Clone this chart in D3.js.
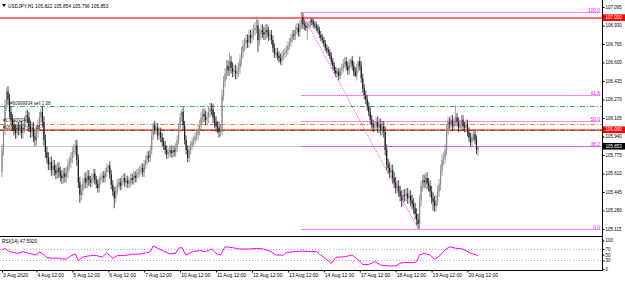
<!DOCTYPE html>
<html>
<head>
<meta charset="utf-8">
<script src="https://d3js.org/d3.v7.min.js"></script>
<style>
html, body { margin: 0; padding: 0; background: #fff; }
svg { display: block; font-family: "Liberation Sans", Arial, sans-serif; }
</style>
</head>
<body>
<svg id="chart" width="625" height="281"></svg>
<script>
// hourly closes, one array per trading day (3 Aug starts at 13:00, 20 Aug stops at 19:00)
var aug03 = [105.82, 106.00, 106.22, 106.34, 106.27, 106.16, 106.09, 106.04, 106.00, 105.97, 106.02];
var aug04 = [106.00, 106.03, 105.97, 106.02, 106.07, 106.13, 106.11, 106.03, 105.98, 106.02, 105.94, 105.91, 105.98, 106.04, 106.11, 106.16, 106.07, 105.91, 105.80, 105.75, 105.69, 105.71, 105.64, 105.68];
var aug05 = [105.64, 105.61, 105.66, 105.62, 105.59, 105.57, 105.61, 105.58, 105.62, 105.69, 105.71, 105.75, 105.80, 105.82, 105.86, 105.73, 105.53, 105.42, 105.46, 105.52, 105.57, 105.53, 105.59, 105.55];
var aug06 = [105.53, 105.57, 105.61, 105.55, 105.52, 105.48, 105.55, 105.57, 105.59, 105.57, 105.62, 105.66, 105.68, 105.60, 105.51, 105.45, 105.39, 105.46, 105.52, 105.53, 105.50, 105.55, 105.57, 105.53];
var aug07 = [105.55, 105.52, 105.53, 105.57, 105.55, 105.59, 105.57, 105.61, 105.62, 105.64, 105.66, 105.62, 105.69, 105.73, 105.77, 105.75, 105.82, 105.95, 106.04, 106.00, 106.02, 105.95, 105.98, 105.93];
var aug10 = [105.89, 105.86, 105.82, 105.78, 105.80, 105.82, 105.79, 105.82, 105.80, 105.84, 105.91, 106.02, 106.11, 106.16, 106.04, 105.91, 105.82, 105.75, 105.82, 105.86, 105.89, 105.91, 105.94, 105.96];
var aug11 = [106.00, 106.04, 106.11, 106.14, 106.12, 106.09, 106.11, 106.16, 106.19, 106.18, 106.11, 106.07, 106.03, 106.02, 105.98, 106.00, 106.31, 106.43, 106.50, 106.57, 106.53, 106.61, 106.55, 106.52];
var aug12 = [106.53, 106.50, 106.52, 106.55, 106.62, 106.69, 106.75, 106.77, 106.80, 106.78, 106.84, 106.82, 106.85, 106.89, 106.91, 106.93, 106.80, 106.85, 106.89, 106.87, 106.85, 106.89, 106.87, 106.84];
var aug13 = [106.85, 106.80, 106.73, 106.68, 106.69, 106.66, 106.64, 106.61, 106.66, 106.68, 106.69, 106.71, 106.75, 106.78, 106.82, 106.85, 106.84, 106.89, 106.91, 106.87, 106.94, 107.00, 106.94, 106.93];
var aug14 = [106.91, 106.93, 106.94, 106.98, 106.96, 106.94, 106.93, 106.91, 106.89, 106.85, 106.82, 106.80, 106.77, 106.73, 106.71, 106.69, 106.66, 106.61, 106.57, 106.53, 106.50, 106.52, 106.48, 106.53];
var aug17 = [106.55, 106.59, 106.61, 106.57, 106.53, 106.59, 106.62, 106.57, 106.52, 106.48, 106.55, 106.61, 106.57, 106.46, 106.37, 106.31, 106.27, 106.21, 106.16, 106.09, 106.05, 106.02, 106.03, 106.07];
var aug18 = [106.02, 106.05, 106.00, 106.03, 105.98, 105.82, 105.69, 105.66, 105.62, 105.64, 105.57, 105.53, 105.48, 105.50, 105.45, 105.41, 105.37, 105.42, 105.41, 105.43, 105.39, 105.41, 105.37, 105.34];
var aug19 = [105.30, 105.25, 105.20, 105.16, 105.37, 105.50, 105.55, 105.53, 105.57, 105.52, 105.50, 105.45, 105.39, 105.36, 105.32, 105.37, 105.45, 105.51, 105.64, 105.73, 105.75, 105.82, 106.00, 106.07];
var aug20 = [106.05, 106.09, 106.03, 106.07, 106.11, 106.07, 106.02, 106.05, 106.09, 106.03, 106.02, 106.05, 105.98, 105.93, 105.89, 105.94, 105.96, 105.91, 105.822, 105.853];

var firstOpen = 105.62;
// usual shadow length per day
var dayWick = [0.05, 0.05, 0.05, 0.04, 0.04, 0.04, 0.05, 0.05, 0.04, 0.03, 0.04, 0.05, 0.05, 0.04];
// bars whose high / low stick out [bar, price]
var highMarks = [[3, 106.37], [26, 106.19], [71, 105.69], [101, 106.06], [120, 106.18], [140, 106.24], [152, 106.69], [170, 107.01], [200, 107.05], [207, 107.00], [233, 106.64], [238, 106.62], [303, 106.22], [318, 105.854]];
var lowMarks = [[0, 105.58], [22, 105.85], [52, 105.35], [75, 105.30], [146, 105.94], [171, 106.69], [186, 106.58], [204, 106.80], [225, 106.44], [236, 106.47], [267, 105.31], [278, 105.115], [288, 105.28], [318, 105.766]];

var priceTicks = [107.095, 106.930, 106.765, 106.600, 106.435, 106.270, 106.105, 105.940, 105.775, 105.610, 105.445, 105.280, 105.115];
var timeTickBars = [0, 23, 47, 71, 95, 119, 143, 167, 191, 215, 239, 263, 287, 311];
var timeTickLabels = ['3 Aug 2020', '4 Aug 12:00', '5 Aug 12:00', '6 Aug 12:00', '7 Aug 12:00', '10 Aug 12:00', '11 Aug 12:00', '12 Aug 12:00', '13 Aug 12:00', '14 Aug 12:00', '17 Aug 12:00', '18 Aug 12:00', '19 Aug 12:00', '20 Aug 12:00'];

var levelPrices = [107.000, 106.000];
var orderPrices = [106.215, 106.05, 106.00];
var orderLabels = ['#60999934 sell 1.08', '#17690934 sl', '#16690712 tp 1.08'];
var bid = 105.853;
var titleText = 'USDJPY,H1  105.822 105.854 105.766 105.853';

var fibLevels = [0, 38.2, 50, 61.8, 100];
var fibFrom = {bar: 200, price: 107.05};
var fibTo = {bar: 278, price: 105.115};

var rsiBars = [0,2,4,7,11,14,17,19,23,25,28,30,33,37,40,43,46,49,51,54,59,63,67,70,74,77,82,87,92,96,99,101,104,108,112,116,118,120,123,127,132,136,140,143,146,149,154,159,164,170,174,179,183,188,190,196,200,206,210,212,216,220,223,229,234,237,241,245,249,253,255,259,263,266,269,274,277,279,282,286,289,293,296,299,303,308,313,317,318];
var rsiVals = [67,72,64,58,55,61,56,54,49,61,50,41,38,38,35,35,46,53,29,42,47,47,42,57,37,47,47,52,52,57,60,81,73,63,53,55,73,76,49,60,65,61,70,55,49,78,75,70,70,72,71,63,49,49,58,61,63,61,61,53,37,20,41,43,49,37,16,16,26,14,12,11,11,20,23,22,25,49,55,49,34,49,67,78,73,70,55,49,47.59];
var rsiTicks = [100, 70, 50, 30, 0];
var rsiLevels = [70, 30];

// build candles, open = previous close
var dayArrays = [aug03, aug04, aug05, aug06, aug07, aug10, aug11, aug12, aug13, aug14, aug17, aug18, aug19, aug20];
var candles = [];
var prev = firstOpen;
dayArrays.forEach(function(arr, d){
    arr.forEach(function(c){
        candles.push({
            i: candles.length, o: prev, c: c,
            h: Math.max(prev, c) + dayWick[d],
            l: Math.min(prev, c) - dayWick[d]
        });
        prev = c;
    });
});
highMarks.forEach(function(m){ var k = candles[m[0]]; k.h = Math.max(m[1], k.o, k.c); });
lowMarks.forEach(function(m){ var k = candles[m[0]]; k.l = Math.min(m[1], k.o, k.c); });

var axisX = 602.5;
var svg = d3.select('#chart');
var x = d3.scaleLinear().domain([0, candles.length - 1]).range([2, 478]);
var y = d3.scaleLinear().domain([105.115, 107.095]).range([229, 7]);
var yr = d3.scaleLinear().domain([0, 100]).range([269, 240.5]);

// snap a y value onto the pixel grid
function crisp(v){ return Math.round(v) + 0.5; }

svg.append('clipPath').attr('id', 'mainClip')
    .append('rect').attr('x', 0).attr('y', 0).attr('width', axisX).attr('height', 236);
var main = svg.append('g').attr('clip-path', 'url(#mainClip)');

// bid line
main.append('line')
    .attr('x1', 0).attr('x2', axisX).attr('y1', crisp(y(bid))).attr('y2', crisp(y(bid)))
    .attr('stroke', '#c8c8c8').attr('stroke-width', 1);

// horizontal levels
levelPrices.forEach(function(p){
    main.append('line')
        .attr('x1', 0).attr('x2', axisX).attr('y1', Math.round(y(p))).attr('y2', Math.round(y(p)))
        .attr('stroke', '#ff6f6f').attr('stroke-width', 2);
});

// order lines
var orderColors = ['#2fb84a', '#ff7a30', '#5a5a20'];
orderPrices.forEach(function(p, k){
    main.append('line')
        .attr('x1', 0).attr('x2', axisX).attr('y1', crisp(y(p))).attr('y2', crisp(y(p)))
        .attr('stroke', orderColors[k]).attr('stroke-width', 1)
        .attr('stroke-dasharray', '5,2,1,2');
});

// candles
var bullCol = '#8a8a8a', bearCol = '#1e1e1e';
var cg = main.append('g');
cg.selectAll('line.wick').data(candles).enter().append('line')
    .attr('class', 'wick')
    .attr('x1', function(d){ return x(d.i); }).attr('x2', function(d){ return x(d.i); })
    .attr('y1', function(d){ return y(d.h); }).attr('y2', function(d){ return y(d.l); })
    .attr('stroke', function(d){ return d.c >= d.o ? bullCol : bearCol; })
    .attr('stroke-width', 0.8);
cg.selectAll('rect.body').data(candles).enter().append('rect')
    .attr('class', 'body')
    .attr('x', function(d){ return x(d.i) - 0.6; }).attr('width', 1.2)
    .attr('y', function(d){ return y(Math.max(d.o, d.c)); })
    .attr('height', function(d){ return Math.max(0.8, Math.abs(y(d.o) - y(d.c))); })
    .attr('fill', function(d){ return d.c >= d.o ? bullCol : bearCol; });

// fibo
var fibX1 = x(fibFrom.bar), fibX2 = 601;
fibLevels.forEach(function(lv){
    var p = fibTo.price + (fibFrom.price - fibTo.price) * lv / 100;
    var yy = crisp(y(p));
    main.append('line')
        .attr('x1', fibX1).attr('x2', fibX2).attr('y1', yy).attr('y2', yy)
        .attr('stroke', '#ff00ff').attr('stroke-width', 1).attr('stroke-dasharray', '1,1');
    main.append('text')
        .attr('x', 600).attr('y', yy - 0.8).attr('text-anchor', 'end')
        .attr('font-size', 4.8).attr('fill', '#ff00ff')
        .text(lv.toFixed(1));
});
main.append('line')
    .attr('x1', x(fibFrom.bar)).attr('y1', y(fibFrom.price))
    .attr('x2', x(fibTo.bar)).attr('y2', y(fibTo.price))
    .attr('stroke', '#ff00ff').attr('stroke-width', 0.8).attr('stroke-dasharray', '1,1');

// order labels
var labelX = [10, 3, 3];
orderPrices.forEach(function(p, k){
    main.append('text')
        .attr('x', labelX[k]).attr('y', y(p) - (k == 1 ? 2.5 : 1))
        .attr('font-size', 4.5).attr('fill', '#222')
        .text(orderLabels[k]);
});

// title
svg.append('path').attr('d', 'M2,4 L6,4 L4,7 Z').attr('fill', '#000');
svg.append('text').attr('x', 8).attr('y', 7.5).attr('font-size', 4.8).attr('fill', '#000').text(titleText);

// frame
svg.append('line').attr('x1', axisX).attr('x2', axisX).attr('y1', 0).attr('y2', 271).attr('stroke', '#000').attr('stroke-width', 1);
svg.append('line').attr('x1', 0).attr('x2', axisX).attr('y1', 236.5).attr('y2', 236.5).attr('stroke', '#000').attr('stroke-width', 1);
svg.append('line').attr('x1', 0).attr('x2', axisX).attr('y1', 270.5).attr('y2', 270.5).attr('stroke', '#000').attr('stroke-width', 1);

// price axis
var yAxis = d3.axisRight(y).tickValues(priceTicks).tickFormat(d3.format('.3f')).tickSize(2).tickPadding(1);
svg.append('g')
    .attr('transform', 'translate(' + axisX + ',0)')
    .call(yAxis)
    .call(function(g){
        g.select('.domain').remove();
        g.selectAll('text').attr('font-size', 4.5).attr('font-family', '"Liberation Sans", Arial, sans-serif').attr('fill', '#000');
        g.selectAll('line').attr('stroke', '#000');
    });

// price marks on axis
function priceBox(p, fill){
    var yy = y(p);
    svg.append('rect').attr('x', axisX + 0.5).attr('y', yy - 3.3).attr('width', 625 - axisX).attr('height', 6.6).attr('fill', fill);
    svg.append('text').attr('x', axisX + 3).attr('y', yy + 1.5).attr('font-size', 4.5).attr('fill', '#fff').text(p.toFixed(3));
}
levelPrices.forEach(function(p){ priceBox(p, '#ff0000'); });
priceBox(bid, '#000');

// RSI window
rsiLevels.forEach(function(v){
    svg.append('line')
        .attr('x1', 0).attr('x2', axisX).attr('y1', crisp(yr(v))).attr('y2', crisp(yr(v)))
        .attr('stroke', '#a0a0a0').attr('stroke-width', 0.8).attr('stroke-dasharray', '1,2');
});
var rsiLine = d3.line()
    .x(function(d, k){ return x(rsiBars[k]); })
    .y(function(d){ return yr(d); });
svg.append('path').datum(rsiVals).attr('d', rsiLine)
    .attr('fill', 'none').attr('stroke', '#ff00ff').attr('stroke-width', 1);
svg.append('text').attr('x', 2).attr('y', 243).attr('font-size', 4.8).attr('fill', '#000').text('RSI(14) 47.5920');

var rAxis = d3.axisRight(yr).tickValues(rsiTicks).tickSize(2).tickPadding(1);
svg.append('g')
    .attr('transform', 'translate(' + axisX + ',0)')
    .call(rAxis)
    .call(function(g){
        g.select('.domain').remove();
        g.selectAll('text').attr('font-size', 4.5).attr('font-family', '"Liberation Sans", Arial, sans-serif').attr('fill', '#000');
        g.selectAll('line').attr('stroke', '#000');
    });

// time axis
var xAxis = d3.axisBottom(x).tickValues(timeTickBars)
    .tickFormat(function(d, k){ return timeTickLabels[k]; })
    .tickSize(2).tickPadding(1);
svg.append('g')
    .attr('transform', 'translate(0,270.5)')
    .call(xAxis)
    .call(function(g){
        g.select('.domain').remove();
        g.selectAll('text').attr('text-anchor', 'start').attr('dx', 0.5)
            .attr('font-size', 5).attr('font-family', '"Liberation Sans", Arial, sans-serif').attr('fill', '#000');
        g.selectAll('line').attr('stroke', '#000');
    });
</script>
</body>
</html>
